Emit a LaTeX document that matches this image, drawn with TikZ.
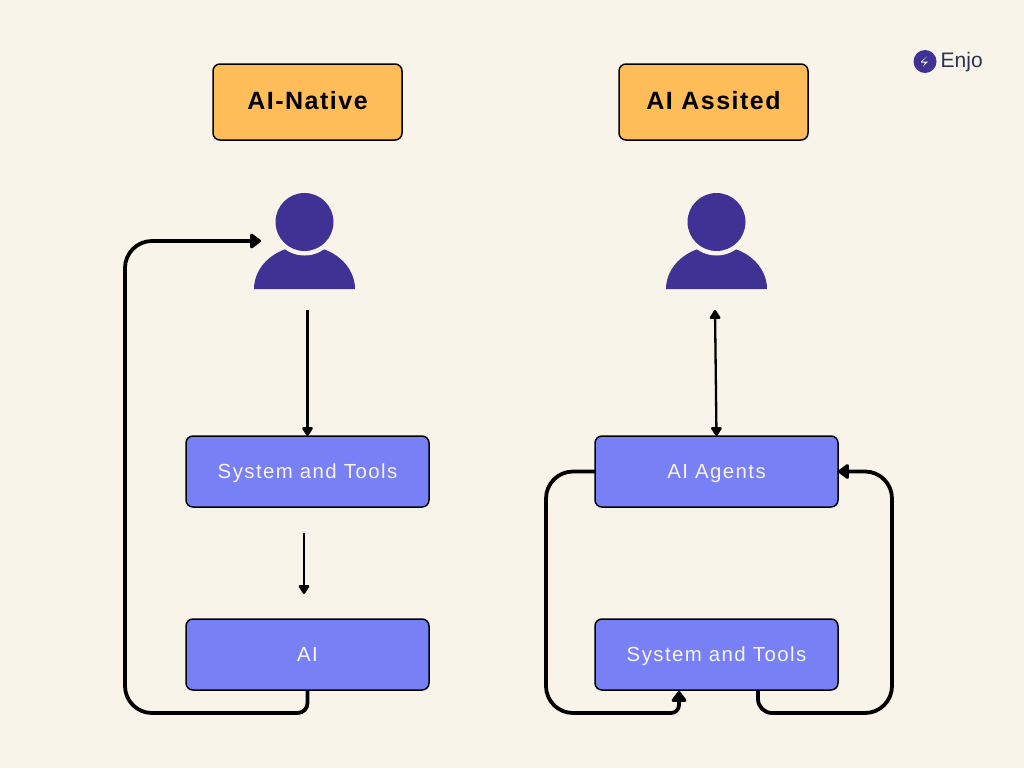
\documentclass[tikz,border=0pt]{standalone}
\usepackage{fontspec}
\setmainfont{Liberation Sans}
\newfontfamily\titlefont[LetterSpace=6]{Liberation Sans}
\newfontfamily\boxfont[LetterSpace=7]{Liberation Sans}
\usetikzlibrary{arrows.meta}

\definecolor{paper}{HTML}{F9F4EA}
\definecolor{amber}{HTML}{FFBD59}
\definecolor{periwinkle}{HTML}{7780F5}
\definecolor{indigo}{HTML}{403294}
\definecolor{slate}{HTML}{2B3350}

\tikzset{
	titlebox/.style={draw=black, fill=amber, line width=1.5pt, rounded corners=7pt, minimum width=189pt, minimum height=76pt, inner sep=0pt, outer sep=0pt, text height=17pt, text depth=2.5pt, font=\titlefont\bfseries\fontsize{25}{28}\selectfont},
	flowbox/.style={draw=black, fill=periwinkle, text=paper, line width=1.5pt, rounded corners=7pt, minimum width=243pt, minimum height=71pt, inner sep=0pt, outer sep=0pt, text height=14pt, text depth=0pt, font=\boxfont\fontsize{20.4}{22}\selectfont},
	userspot/.style={minimum width=101pt, minimum height=96pt, inner sep=0pt, outer sep=0pt},
	headtip/.tip={Triangle[length=10pt,width=12pt,round]},
	bighead/.tip={Triangle[length=12pt,width=17pt,round]},
	thinflow/.style={line width=2.3pt, -headtip},
	thickflow/.style={line width=3.8pt, -bighead}
}

\begin{document}
\begin{tikzpicture}[x=1pt, y=-1pt]
	% Paper and picture size
	\fill[paper] (0,0) rectangle (1024,768);
	\useasboundingbox (0,0) rectangle (1024,768);

	% Title boxes
	\node[titlebox] (native) at (307.5,102) {AI-Native};
	\node[titlebox] (assisted) at (713.5,102) {AI Assited};

	% Places of the two users
	\node[userspot] (userL) at (304.5,241) {};
	\node[userspot] (userR) at (716.5,241) {};

	% Draw the users: the head sits in a gap cut out of the shoulders
	\foreach \u in {userL, userR} {
		\fill[indigo] (\u.south west) arc[start angle=180, end angle=0, x radius=50.5, y radius=-43] -- cycle;
		\fill[paper] ([yshift=-29pt]\u.north) circle (33.5pt);
		\fill[indigo] ([yshift=-29pt]\u.north) circle (29pt);
	}

	% Flow boxes
	\node[flowbox] (toolsL) at (307.5,471.5) {System and Tools};
	\node[flowbox] (modelL) at (307.5,654.5) {AI};
	\node[flowbox] (agentsR) at (716.5,471.5) {AI Agents\hspace{6pt}};
	\node[flowbox] (toolsR) at (716.5,654.5) {System and Tools};

	% Free ends of the connectors
	\coordinate (userLout) at (307.5,310);
	\coordinate (userLin) at (261,241);
	\coordinate (toolsLout) at (304,533);
	\coordinate (modelLin) at (304,594);
	\coordinate (userRport) at (715,310);
	\coordinate (toolsRin) at (679,691);
	\coordinate (toolsRout) at (758,690);

	% Left column
	\draw[thinflow] (userLout) -- (toolsL.north);
	\draw[thinflow] (toolsLout) -- (modelLin);
	\draw[thickflow, rounded corners=10pt] (modelL.south) -- (307.5,713) [rounded corners=27pt] -- (125,713) -- (125,241) -- (userLin);

	% Right column
	\draw[thinflow, headtip-headtip] (userRport) -- (agentsR.north);
	\draw[thickflow, rounded corners=27pt] (agentsR.west) -- (546,471.5) -- (546,713) [rounded corners=8pt] -- (679,713) -- (toolsRin);
	\draw[thickflow, rounded corners=14pt] (toolsRout) -- (758,713) [rounded corners=27pt] -- (892,713) -- (892,471.5) -- (agentsR.east);

	% Logo
	\node[circle, fill=indigo, minimum size=23pt, inner sep=0pt] (logo) at (925,61.5) {};
	\fill[paper] (logo.center) ++(2,-5) -- ++(-5,5) -- ++(6,0) -- ++(-5,5) -- ++(2,-4) -- ++(-4,0) -- ++(0,-1) -- cycle;
	\node[anchor=west, inner sep=0pt, text=slate, font=\fontsize{21}{24}\selectfont] (brand) at (940.5,62) {Enjo};
\end{tikzpicture}
\end{document}
